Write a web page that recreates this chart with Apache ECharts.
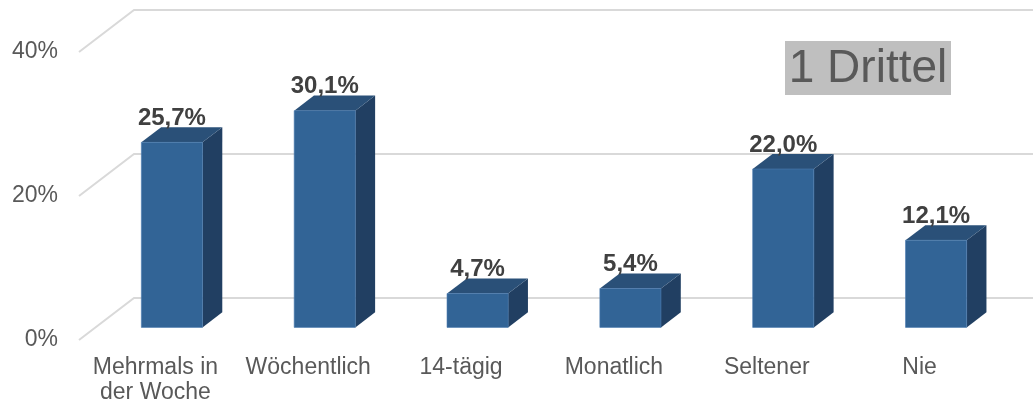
<!DOCTYPE html>
<html>
<head>
<meta charset="utf-8">
<script src="https://cdn.jsdelivr.net/npm/echarts@6/dist/echarts.min.js"></script>
<style>
  html, body { margin: 0; padding: 0; background: #ffffff; }
  #chart { width: 1033px; height: 405px; }
</style>
</head>
<body>
<div id="chart"></div>
<script>
// Häufigkeit – Anteile je Kategorie
const categories = ['Mehrmals in\nder Woche', 'Wöchentlich', '14-tägig', 'Monatlich', 'Seltener', 'Nie'];
const values = [25.7, 30.1, 4.7, 5.4, 22.0, 12.1];
const yTicks = [0, 20, 40];
const badgeText = '1 Drittel';

// pseudo-3D geometry: floor depth offset and the slice occupied by the bars
const DEPTH_X = 55, DEPTH_Y = -42;
const BAR_FRONT = 0.30, BAR_BACK = 0.66;
const BAR_WIDTH_RATIO = 0.4;

const COLOR_FRONT = '#326496';
const COLOR_TOP = '#2a5078';
const COLOR_SIDE = '#213f62';
const GRID_COLOR = '#d9d9d9';
const FONT = 'Liberation Sans, Arial, sans-serif';

const chart = echarts.init(document.getElementById('chart'));

function renderGridLines(params, api) {
  const v = api.value(0);
  const cs = params.coordSys;
  const y = api.coord([0, v])[1];
  const x0 = cs.x;
  const x1 = cs.x + cs.width + DEPTH_X + 40;
  return {
    type: 'polyline',
    shape: { points: [[x0, y], [x0 + DEPTH_X, y + DEPTH_Y], [x1, y + DEPTH_Y]] },
    style: { stroke: GRID_COLOR, lineWidth: 2, fill: null },
    silent: true
  };
}

function renderBar(params, api) {
  const idx = api.value(0);
  const val = api.value(1);
  const top = api.coord([idx, val]);
  const base = api.coord([idx, 0]);
  const band = api.size([1, 0])[0];
  const w = band * BAR_WIDTH_RATIO;
  const fx = DEPTH_X * BAR_FRONT, fy = DEPTH_Y * BAR_FRONT;
  const dx = DEPTH_X * (BAR_BACK - BAR_FRONT), dy = DEPTH_Y * (BAR_BACK - BAR_FRONT);
  const l = top[0] - w / 2 + fx, r = top[0] + w / 2 + fx;
  const t = top[1] + fy, b = base[1] + fy;
  const label = val.toFixed(1).replace('.', ',') + '%';
  return {
    type: 'group',
    children: [
      { type: 'polygon', shape: { points: [[r, t], [r + dx, t + dy], [r + dx, b + dy], [r, b]] },
        style: { fill: COLOR_SIDE } },
      { type: 'polygon', shape: { points: [[l, t], [l + dx, t + dy], [r + dx, t + dy], [r, t]] },
        style: { fill: COLOR_TOP } },
      { type: 'rect', shape: { x: l, y: t, width: r - l, height: b - t },
        style: { fill: COLOR_FRONT, stroke: '#4a7ab0', lineWidth: 0.6 } },
      { type: 'text', x: (l + r) / 2, y: t - 24,
        style: { text: label, fill: '#404040', font: 'bold 24px ' + FONT,
                 align: 'center', verticalAlign: 'middle' } }
    ]
  };
}

chart.setOption({
  animation: false,
  backgroundColor: '#ffffff',
  grid: { left: 79, right: 37, top: 52, bottom: 63, containLabel: false },
  xAxis: {
    type: 'category',
    data: categories,
    axisLine: { show: false },
    axisTick: { show: false },
    axisLabel: { color: '#595959', fontSize: 23, fontFamily: FONT, margin: 15, lineHeight: 25, interval: 0 }
  },
  yAxis: {
    type: 'value',
    min: 0, max: 40, interval: 20,
    axisLine: { show: false },
    axisTick: { show: false },
    splitLine: { show: false },
    axisLabel: { color: '#595959', fontSize: 23, fontFamily: FONT, margin: 21, formatter: '{value}%' }
  },
  series: [
    {
      type: 'custom',
      z: 1,
      renderItem: renderGridLines,
      data: yTicks.map(v => [v]),
      encode: { y: 0 },
      silent: true
    },
    {
      type: 'custom',
      z: 2,
      renderItem: renderBar,
      data: values.map((v, i) => [i, v]),
      encode: { x: 0, y: 1 }
    }
  ],
  graphic: [
    {
      type: 'group',
      left: 785, top: 41,
      children: [
        { type: 'rect', shape: { x: 0, y: 0, width: 166, height: 54 }, style: { fill: '#bfbfbf' } },
        { type: 'text', x: 83, y: 28,
          style: { text: badgeText, fill: '#595959', font: '46px ' + FONT, align: 'center', verticalAlign: 'middle' } }
      ]
    }
  ]
});
</script>
</body>
</html>
